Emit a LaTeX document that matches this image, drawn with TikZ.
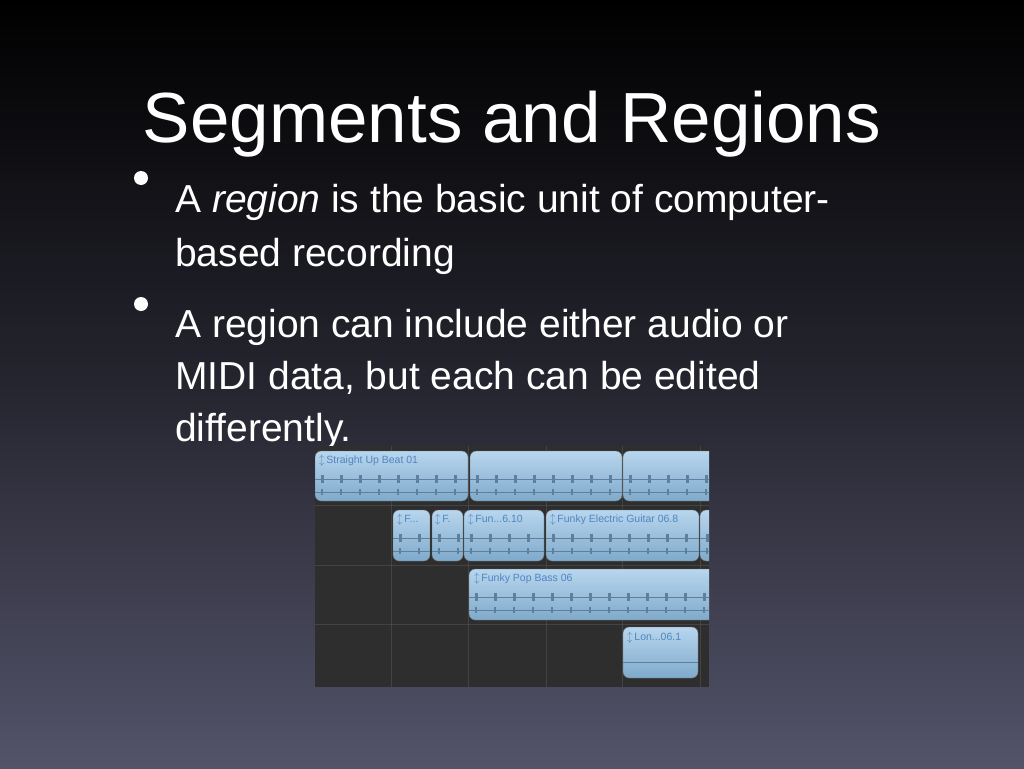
\documentclass[tikz,border=0pt]{standalone}
\usepackage{fontspec}
\setmainfont{Liberation Sans}
\begin{document}
\begin{tikzpicture}[x=1pt,y=-1pt,
  reg/.style={rounded corners=6pt,draw=black!60,top color=regtop,bottom color=regbot},
  rtext/.style={anchor=west,text=regtxt,font=\fontsize{10.5}{12}\selectfont,inner sep=1pt},
  wave/.style={draw=wavec,line width=0.6pt},
  grid/.style={draw=black!30!gray,line width=0.4pt,opacity=0.5},
  txt/.style={anchor=base west,text=white,font=\fontsize{39}{40}\selectfont,inner sep=0pt}]
\definecolor{regtop}{HTML}{B8D6EE}
\definecolor{regbot}{HTML}{7FAACB}
\definecolor{regtxt}{HTML}{4F86C0}
\definecolor{wavec}{HTML}{5F7F9C}
\definecolor{bgtop}{HTML}{000000}
\definecolor{bgbot}{HTML}{53536A}
\shade[top color=bgtop,bottom color=bgbot,middle color=bgtop!55!bgbot] (0,0) rectangle (1024,768);
\useasboundingbox (0,0) rectangle (1024,768);
\node[anchor=base,text=white,font=\fontsize{71}{75}\selectfont,inner sep=0] (title) at (512,142) {Segments and Regions};
\fill[white] (141,178) circle (7) coordinate (b1);
\fill[white] (141,304) circle (7) coordinate (b2);
\node[txt] (t1) at (175,212) {A \textit{region} is the basic unit of computer-};
\node[txt] (t2) at (175,266) {based recording};
\node[txt] (t3) at (175,337) {A region can include either audio or};
\node[txt] (t4) at (175,389) {MIDI data, but each can be edited};
\node[txt] (t5) at (175,441) {differently.};
% screenshot
\fill[black!82] (315,446) rectangle (709,687);
\foreach \x in {391,468,546,622,700} \draw[grid] (\x,446) -- (\x,687);
\foreach \y in {505,565,624} \draw[grid] (315,\y) -- (709,\y);
\begin{scope}
\clip (315,446) rectangle (709,687);
\foreach \a/\b/\c/\d/\n in {315/468/451/501/r1,470/622/451/501/r2,623/716/451/501/r3,
  393/430/510/561/r4,432/463/510/561/r5,464/544/510/561/r6,546/699/510/561/r7,700/716/510/561/r8,
  469/716/569/620/r9}{
  \draw[reg] (\a,\c) rectangle (\b,\d);
  \draw[wave] (\a,{\c+28}) -- (\b,{\c+28});
  \draw[wave] (\a,{\c+41}) -- (\b,{\c+41});
  \pgfmathsetmacro{\st}{\a+6}
  \pgfmathsetmacro{\sn}{\a+25}
  \foreach \t in {\st,\sn,...,\b} {
    \fill[wavec] (\t,{\c+24}) rectangle ++(2.5,8);
    \fill[wavec] (\t,{\c+38}) rectangle ++(2,6);
  }
}
\draw[reg] (623,627) rectangle (698,678);
\draw[wave] (623,662) -- (698,662);
\end{scope}
\node[rtext] (l1) at (318,461) {$\updownarrow$\,Straight Up Beat 01};
\node[rtext] (l2) at (396,520) {$\updownarrow$\,F...};
\node[rtext] (l3) at (434,520) {$\updownarrow$\,F.};
\node[rtext] (l4) at (467,520) {$\updownarrow$\,Fun...6.10};
\node[rtext] (l5) at (549,520) {$\updownarrow$\,Funky Electric Guitar 06.8};
\node[rtext] (l6) at (473,579) {$\updownarrow$\,Funky Pop Bass 06};
\node[rtext] (l7) at (626,638) {$\updownarrow$\,Lon...06.1};
\end{tikzpicture}
\end{document}
